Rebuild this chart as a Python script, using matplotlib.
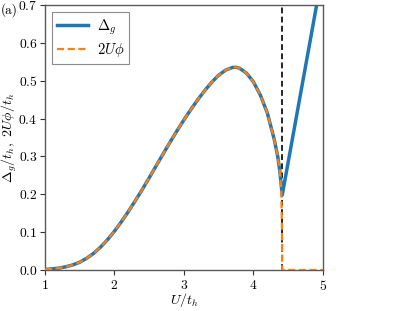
import matplotlib
matplotlib.use("Agg")
import matplotlib.pyplot as plt

plt.rcParams['mathtext.fontset'] = 'cm'
plt.rcParams['font.family'] = 'serif'
plt.rcParams['font.serif'] = ['cmr10', 'DejaVu Serif']
plt.rcParams['axes.formatter.use_mathtext'] = True
plt.rcParams['font.size'] = 10

# Shared part of both curves (Delta_g = 2 U phi)
U_common = [1.0, 1.1, 1.2, 1.3, 1.4, 1.5, 1.6, 1.7, 1.8, 1.9, 2.0, 2.1, 2.2, 2.3,
            2.4, 2.5, 2.6, 2.7, 2.8, 2.9, 3.0, 3.1, 3.2, 3.3, 3.4, 3.5, 3.6, 3.7,
            3.75, 3.8, 3.9, 4.0, 4.1, 4.2, 4.3, 4.35, 4.38]
V_common = [0.0015, 0.003, 0.005, 0.0085, 0.0135, 0.0205, 0.031, 0.044, 0.0605,
            0.080, 0.1025, 0.1275, 0.1545, 0.183, 0.2125, 0.2435, 0.275, 0.3065,
            0.3375, 0.3675, 0.3965, 0.424, 0.450, 0.474, 0.496, 0.5145, 0.528,
            0.535, 0.5355, 0.533, 0.520, 0.497, 0.462, 0.415, 0.345, 0.300, 0.262]

# Tail of Delta_g
U_gap_tail = [4.415, 5.0]
V_gap_tail = [0.198, 0.791]

# Tail of 2 U phi
U_phi_tail = [4.40, 4.412, 4.415, 5.0]
V_phi_tail = [0.215, 0.10, 0.0, 0.0]

U_c = 4.415

x_ticks = [1, 2, 3, 4, 5]
y_ticks = [0.0, 0.1, 0.2, 0.3, 0.4, 0.5, 0.6, 0.7]

U_gap = U_common + U_gap_tail
V_gap = V_common + V_gap_tail
U_phi = U_common + U_phi_tail
V_phi = V_common + V_phi_tail

fig = plt.figure(figsize=(4.15, 3.11), dpi=100)
ax = fig.add_axes([0.1084, 0.1318, 0.6696, 0.8522])

ax.plot(U_gap, V_gap, color='#1f77b4', lw=2.5, label=r'$\Delta_g$', zorder=2)
ax.plot(U_phi, V_phi, color='#ff7f0e', lw=1.6, ls=(0, (3.2, 1.6)), label=r'$2U\phi$', zorder=3)
ax.axvline(U_c, color='black', lw=1.2, ls=(0, (3.5, 2.0)), zorder=1)

ax.set_xlim(1, 5)
ax.set_ylim(0, 0.7)
ax.set_xticks(x_ticks)
ax.set_yticks(y_ticks)
ax.set_xticklabels([f'${t}$' for t in x_ticks])
ax.set_yticklabels([f'${t:.1f}$' for t in y_ticks])
ax.set_xlabel(r'$U/t_h$', fontsize=10)
ax.set_ylabel(r'$\Delta_g/t_h,\ 2U\phi/t_h$', fontsize=10)
ax.xaxis.set_label_coords(0.5, -0.08)
ax.yaxis.set_label_coords(-0.092, 0.5)

for s in ax.spines.values():
    s.set_color('0.35')
    s.set_linewidth(1.0)
ax.tick_params(colors='0.2', labelcolor='black', length=3.5, width=0.8, labelsize=9.8)
ax.tick_params(axis='y', pad=2.0)
ax.tick_params(axis='x', pad=3.0)

leg = ax.legend(loc='upper left', fancybox=False, edgecolor='0.55', framealpha=1.0,
                fontsize=10.5, handlelength=2.1, borderpad=0.35, labelspacing=0.3,
                handletextpad=0.6, borderaxespad=0.5)
leg.get_frame().set_linewidth(0.8)

fig.text(0.002, 0.99, '(a)', ha='left', va='top', fontsize=9.5)

fig.savefig('out.png', dpi=100)
